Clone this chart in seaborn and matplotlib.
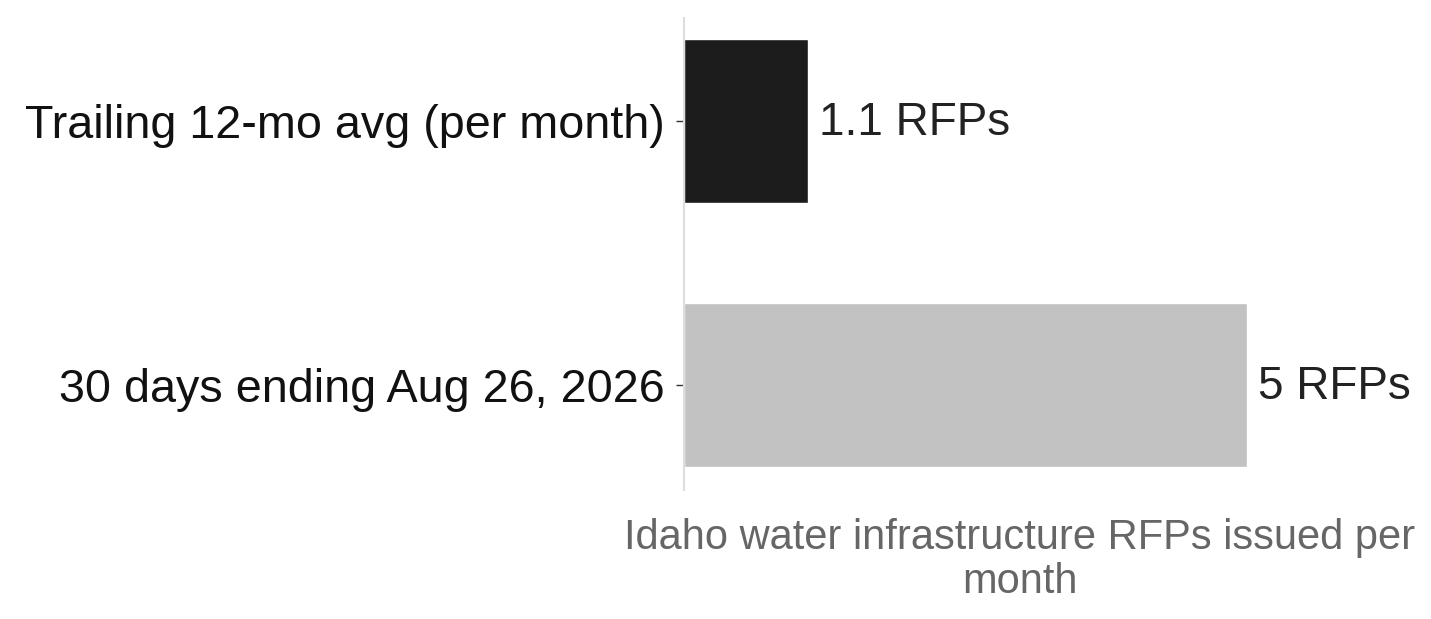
import numpy as np
import pandas as pd
import seaborn as sns
import matplotlib.pyplot as plt

# data
periods = ['Trailing 12-mo avg (per month)', '30 days ending Aug 26, 2026']
rfps = [1.1, 5]
bar_labels = ['1.1 RFPs', '5 RFPs']
bar_colors = ['#1c1c1c', '#c2c2c2']
x_label = 'Idaho water infrastructure RFPs issued per\nmonth'

df = pd.DataFrame({'period': periods, 'rfps': rfps})

sns.set_style('white')
plt.rcParams['font.family'] = ['Liberation Sans', 'DejaVu Sans']

fig = plt.figure(figsize=(14.31, 6.19), dpi=100)
ax = fig.add_axes([0.478, 0.208, 0.4696, 0.763])

sns.barplot(data=df, x='rfps', y='period', hue='period', palette=bar_colors,
            width=0.62, legend=False, ax=ax)

for i, (v, lab) in enumerate(zip(rfps, bar_labels)):
    ax.text(v + 0.1, i + 0.01, lab, va='center', ha='left', fontsize=33, color='#222222')

ax.set_xlim(0, 5.97)
ax.set_ylim(1.4, -0.39)
ax.set_ylabel('')
ax.set_xlabel(x_label, fontsize=30, color='#666666', labelpad=20, linespacing=1.12)
ax.set_xticks([])
ax.tick_params(axis='y', labelsize=33.7, length=6, width=1, color='#333333',
               left=True, pad=8, labelcolor='#111111')

for s in ['top', 'right', 'bottom']:
    ax.spines[s].set_visible(False)
ax.spines['left'].set_color('#dddddd')
ax.spines['left'].set_linewidth(1.5)

fig.savefig('out.png', dpi=100)
